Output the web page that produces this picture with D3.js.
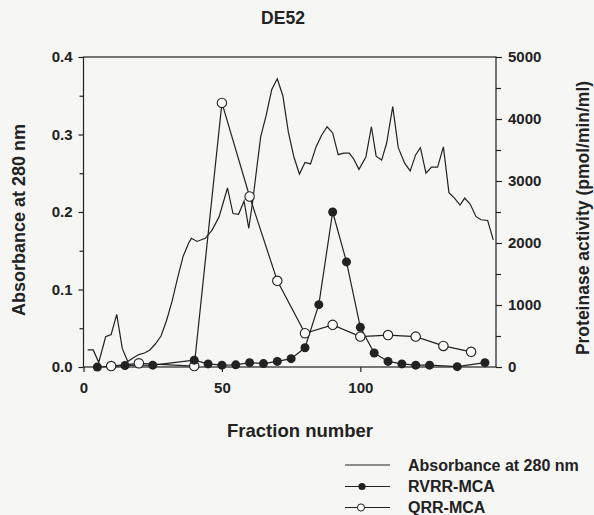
<!DOCTYPE html>
<html>
<head>
<meta charset="utf-8">
<script src="https://cdn.jsdelivr.net/npm/d3@7/dist/d3.min.js"></script>
<style>
  html, body { margin: 0; padding: 0; background: #f6f6f4; }
  svg { display: block; }
  text { font-family: "Liberation Sans", Arial, Helvetica, sans-serif; font-weight: bold; fill: #222; }
</style>
</head>
<body>
<svg id="chart" width="594" height="515"></svg>
<script>
// Absorbance at 280 nm (left axis) along the DE52 elution
const absFraction = [1.5, 3.5, 5.5, 8, 10, 12, 14, 16, 18, 20, 22, 24, 26, 28, 30, 32, 34, 36, 38, 39,
  41, 44, 46.5, 49, 52, 54, 56, 58, 59.7, 61, 64, 66, 68, 70, 72, 74, 76, 78, 80, 82,
  84, 86, 88, 90, 92, 94, 96, 97.5, 99.5, 102, 104, 105.7, 107.7, 109.5, 111.7, 113.7, 116, 118, 120, 121.7,
  123.7, 125.7, 127.9, 130, 132, 134, 136, 137.7, 139.7, 141.8, 143.6, 146, 148];
const absValue = [0.022, 0.022, 0.006, 0.039, 0.042, 0.068, 0.024, 0.007, 0.012, 0.016, 0.018, 0.022, 0.030, 0.040, 0.060, 0.085, 0.115, 0.143, 0.160, 0.166,
  0.162, 0.166, 0.177, 0.194, 0.231, 0.198, 0.197, 0.214, 0.179, 0.211, 0.297, 0.325, 0.358, 0.372, 0.350, 0.303, 0.271, 0.249, 0.264, 0.262,
  0.284, 0.299, 0.310, 0.302, 0.274, 0.276, 0.276, 0.269, 0.255, 0.271, 0.310, 0.272, 0.267, 0.289, 0.336, 0.283, 0.263, 0.253, 0.274, 0.283,
  0.250, 0.258, 0.258, 0.284, 0.225, 0.218, 0.209, 0.218, 0.210, 0.194, 0.190, 0.189, 0.164];

// Proteinase activity (right axis), pmol/min/ml
const rvrrFraction = [5, 15, 25, 40, 45, 50, 55, 60, 65, 70, 75, 80, 85, 90, 95, 100, 105, 110, 115, 120, 125, 135, 145];
const rvrrActivity = [0, 25, 30, 110, 50, 30, 35, 70, 55, 90, 135, 310, 1005, 2500, 1695, 640, 225, 90, 50, 30, 30, 5, 70];

const qrrFraction = [10, 20, 40, 50, 60, 70, 80, 90, 100, 110, 120, 130, 140];
const qrrActivity = [15, 60, 15, 4260, 2750, 1390, 545, 680, 490, 515, 490, 340, 245];

const xTicks = [0, 50, 100];
const absTicks = [0, 0.1, 0.2, 0.3, 0.4];
const absMinorTicks = [0.05, 0.15, 0.25, 0.35];
const actTicks = [0, 1000, 2000, 3000, 4000, 5000];
const actMinorTicks = [500, 1500, 2500, 3500, 4500];

const legendLabels = ["Absorbance at 280 nm", "RVRR-MCA", "QRR-MCA"];

const ink = "#222";
const svg = d3.select("#chart");

const plotLeft = 83.5, plotRight = 496, plotTop = 57, plotBottom = 367;
const x = d3.scaleLinear().domain([0, 149]).range([plotLeft, plotRight]);
const yAbs = d3.scaleLinear().domain([0, 0.4]).range([plotBottom, plotTop]);
const yAct = d3.scaleLinear().domain([0, 5000]).range([plotBottom, plotTop]);

// frame
svg.append("rect")
  .attr("x", plotLeft).attr("y", plotTop)
  .attr("width", plotRight - plotLeft).attr("height", plotBottom - plotTop)
  .attr("fill", "none").attr("stroke", ink).attr("stroke-width", 1.2);

function styleAxis(g) {
  g.selectAll(".domain").remove();
  g.selectAll("line").attr("stroke", ink).attr("stroke-width", 1.2);
  g.selectAll("text").attr("font-size", 15).style("font-family", "'Liberation Sans', Arial, sans-serif").style("font-weight", "bold").attr("fill", ink);
}

// x axis
svg.append("g").attr("transform", `translate(0,${plotBottom})`)
  .call(d3.axisBottom(x).tickValues(xTicks).tickSize(5).tickPadding(10.5).tickFormat(d3.format("d")))
  .call(styleAxis);

// left axis
svg.append("g").attr("transform", `translate(${plotLeft},0)`)
  .call(d3.axisLeft(yAbs).tickValues(absTicks).tickSize(5).tickPadding(6).tickFormat(d3.format(".1f")))
  .call(styleAxis);
svg.append("g").attr("transform", `translate(${plotLeft},0)`)
  .call(d3.axisLeft(yAbs).tickValues(absMinorTicks).tickSize(4).tickFormat(""))
  .call(styleAxis);

// right axis
svg.append("g").attr("transform", `translate(${plotRight},0)`)
  .call(d3.axisRight(yAct).tickValues(actTicks).tickSize(6).tickPadding(6).tickFormat(d3.format("d")))
  .call(styleAxis);
svg.append("g").attr("transform", `translate(${plotRight},0)`)
  .call(d3.axisRight(yAct).tickValues(actMinorTicks).tickSize(5).tickFormat(""))
  .call(styleAxis);

// titles
svg.append("text").attr("x", 283).attr("y", 24).attr("text-anchor", "middle")
  .attr("font-size", 17.5).text("DE52");
svg.append("text").attr("x", 300).attr("y", 437).attr("text-anchor", "middle")
  .attr("font-size", 18.5).text("Fraction number");
svg.append("text").attr("transform", "translate(25,220) rotate(-90)").attr("text-anchor", "middle")
  .attr("font-size", 18).text("Absorbance at 280 nm");
svg.append("text").attr("transform", "translate(589,218) rotate(-90)").attr("text-anchor", "middle")
  .attr("font-size", 17.5).text("Proteinase activity (pmol/min/ml)");

// absorbance trace
const absData = absFraction.map((f, i) => [f, absValue[i]]);
svg.append("path").datum(absData)
  .attr("fill", "none").attr("stroke", ink).attr("stroke-width", 1.2).attr("stroke-linejoin", "miter")
  .attr("d", d3.line().x(d => x(d[0])).y(d => yAbs(d[1])));

// QRR-MCA activity
const qrrData = qrrFraction.map((f, i) => [f, qrrActivity[i]]);
const actLine = d3.line().x(d => x(d[0])).y(d => yAct(d[1]));
svg.append("path").datum(qrrData)
  .attr("fill", "none").attr("stroke", ink).attr("stroke-width", 1.2).attr("d", actLine);

// RVRR-MCA activity
const rvrrData = rvrrFraction.map((f, i) => [f, rvrrActivity[i]]);
svg.append("path").datum(rvrrData)
  .attr("fill", "none").attr("stroke", ink).attr("stroke-width", 1.2).attr("d", actLine);

svg.append("g").selectAll("circle").data(qrrData).join("circle")
  .attr("cx", d => x(d[0])).attr("cy", d => yAct(d[1])).attr("r", 4.7)
  .attr("fill", "#fbfbfa").attr("stroke", ink).attr("stroke-width", 1.1);
svg.append("g").selectAll("circle").data(rvrrData).join("circle")
  .attr("cx", d => x(d[0])).attr("cy", d => yAct(d[1])).attr("r", 4.5)
  .attr("fill", ink).attr("stroke", "none");

// legend
const legendRows = [465, 486.5, 507.5];
const lg = svg.append("g");
legendLabels.forEach((label, i) => {
  const y = legendRows[i];
  lg.append("line").attr("x1", 345).attr("x2", 390).attr("y1", y).attr("y2", y)
    .attr("stroke", ink).attr("stroke-width", 1.1);
  if (i === 1) lg.append("circle").attr("cx", 362).attr("cy", y).attr("r", 3.6).attr("fill", ink);
  if (i === 2) lg.append("circle").attr("cx", 361).attr("cy", y).attr("r", 3.6)
    .attr("fill", "#fbfbfa").attr("stroke", ink).attr("stroke-width", 1);
  lg.append("text").attr("x", 408).attr("y", y + 5.5).attr("font-size", 16).text(label);
});
</script>
</body>
</html>
